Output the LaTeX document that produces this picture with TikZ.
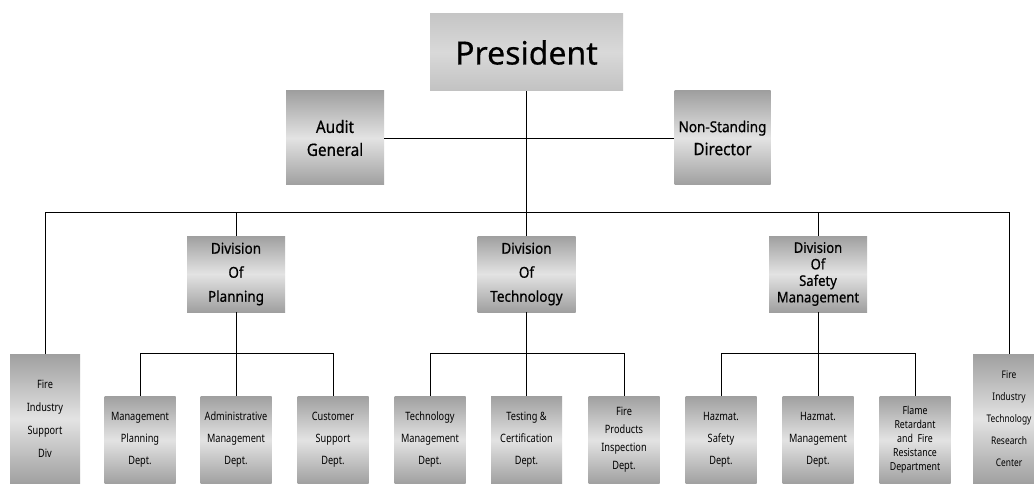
\documentclass[tikz,border=0pt]{standalone}
\usepackage{fontspec}
\setmainfont{Noto Sans}[FakeBold=0.5]
\newfontfamily\labf{Noto Sans}[FakeStretch=0.9,FakeBold=0.6]
\newfontfamily\deptf{Noto Sans}[FakeStretch=0.8]
\begin{document}
\begin{tikzpicture}[x=1pt,y=-1pt,
  conn/.style={draw=black,line width=0.8pt},
  shadebox/.style={inner sep=0pt,align=center,text=black,
    top color=gray!75,bottom color=gray!75,middle color=gray!22},
  presbox/.style={inner sep=0pt,align=center,text=black,
    top color=gray!45,bottom color=gray!48,middle color=gray!30,
    minimum width=193,minimum height=77,
    font=\fontsize{32}{36}\selectfont},
  topbox/.style={shadebox,minimum height=94,
    font=\labf\fontsize{17}{23}\selectfont},
  divbox/.style={shadebox,minimum width=98,minimum height=76,
    font=\labf\fontsize{15}{24}\selectfont},
  deptbox/.style={shadebox,minimum width=71,minimum height=88,
    font=\deptf\fontsize{11.5}{22}\selectfont},
  sidebox/.style={shadebox,minimum width=70,minimum height=130,
    font=\deptf\fontsize{11.5}{23}\selectfont}
]
\useasboundingbox (0,0) rectangle (1034,484);
\fill[white] (0,0) rectangle (1034,484);

% top level
\node[presbox] (pres) at (526.5,52.5) {President};
\node[topbox,minimum width=98] (aud) at (335,138) {Audit\\General};
\node[topbox,minimum width=96] (nsd) at (722.5,138) {{\fontsize{15}{23}\selectfont Non-Standing}\\Director};

% divisions
\node[divbox] (plan) at (236,274) {Division\\Of\\Planning};
\node[divbox] (tech) at (526.5,274) {Division\\Of\\Technology};
\node[divbox,font=\labf\fontsize{14.5}{16.5}\selectfont] (safe) at (818,274) {Division\\Of\\Safety\\Management};

% side boxes
\node[sidebox] (fisd) at (45,419) {Fire\\Industry\\Support\\Div};
\node[sidebox,minimum width=72,font=\deptf\fontsize{10.5}{22}\selectfont] (fitrc) at (1009,419) {Fire\\Industry\\Technology\\Research\\Center};

% departments
\node[deptbox] (d11) at (140,440) {Management\\Planning\\Dept.};
\node[deptbox] (d12) at (236,440) {Administrative\\Management\\Dept.};
\node[deptbox] (d13) at (333,440) {Customer\\Support\\Dept.};
\node[deptbox] (d21) at (430,440) {Technology\\Management\\Dept.};
\node[deptbox] (d22) at (526.5,440) {Testing \&\\Certification\\Dept.};
\node[deptbox,font=\deptf\fontsize{11.5}{18}\selectfont] (d23) at (624,440) {Fire\\Products\\Inspection\\Dept.};
\node[deptbox] (d31) at (721,440) {Hazmat.\\Safety\\Dept.};
\node[deptbox] (d32) at (818,440) {Hazmat.\\Management\\Dept.};
\node[deptbox,font=\deptf\fontsize{11}{14}\selectfont] (d33) at (915,440) {Flame\\Retardant\\and\ \ Fire\\Resistance\\Department};

% main line ends
\coordinate (mL) at (45,212);
\coordinate (mR) at (1009,212);

% connectors
\draw[conn] (pres.south) -- (tech.north);
\draw[conn] (aud.east) -- (nsd.west);
\draw[conn] (mL) -- (mR);
\draw[conn] (mL) -- (fisd.north);
\draw[conn] (mR) -- (fitrc.north);
\draw[conn] (plan.north |- mL) -- (plan.north);
\draw[conn] (safe.north |- mL) -- (safe.north);

\draw[conn] (plan.south) -- (d12.north);
\draw[conn] (d11.north) -- ++(0,-42) -| (d13.north);
\draw[conn] (tech.south) -- (d22.north);
\draw[conn] (d21.north) -- ++(0,-42) -| (d23.north);
\draw[conn] (safe.south) -- (d32.north);
\draw[conn] (d31.north) -- ++(0,-42) -| (d33.north);
\end{tikzpicture}
\end{document}
